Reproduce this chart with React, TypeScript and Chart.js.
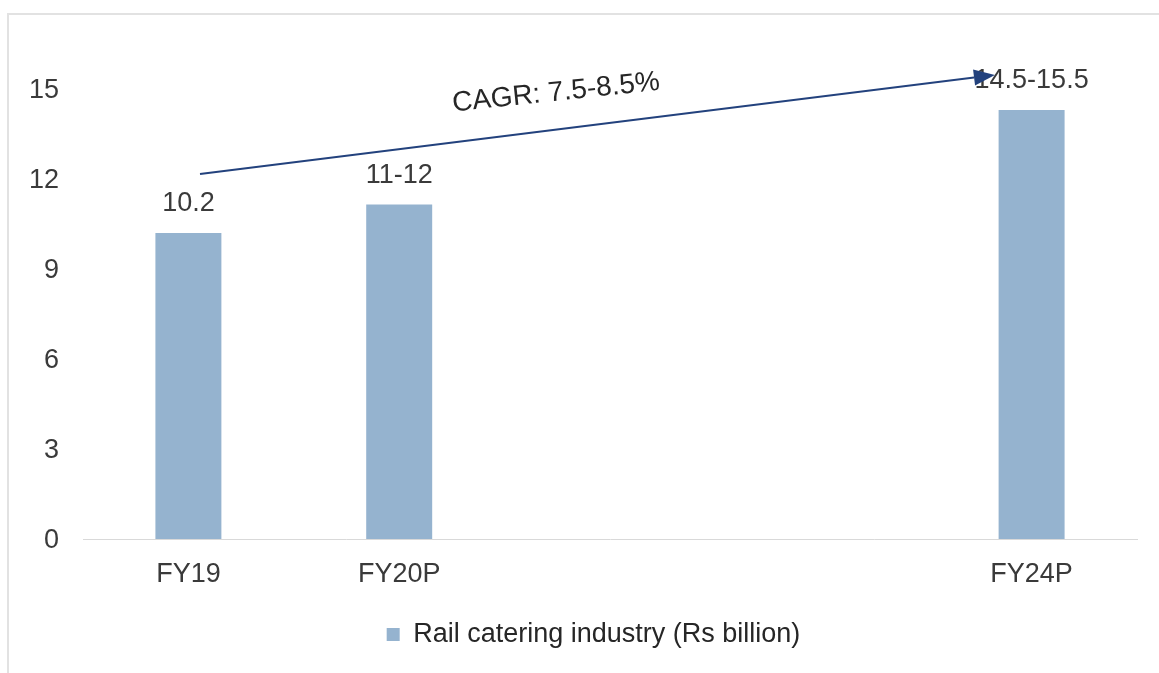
import React, { useEffect, useRef } from 'react';
import { Chart, registerables } from 'chart.js';

Chart.register(...registerables);

// ---- data ----
const categories = ['FY19', 'FY20P', '', '', 'FY24P'];
const marketSize = [10.2, 11.15, null, null, 14.3];
const valueLabels = ['10.2', '11-12', '', '', '14.5-15.5'];
const seriesName = 'Rail catering industry (Rs billion)';
const yTickValues = [0, 3, 6, 9, 12, 15];
const cagrText = 'CAGR: 7.5-8.5%';
// annotation anchors in data units: [category index, value]
const cagrFrom = [0.055, 12.17];
const cagrTo = [3.826, 15.47];
const cagrTextAt = [1.744, 14.87];

const FONT = '"Liberation Sans", Arial, sans-serif';
const FONT_SIZE = 27;
const BAR_COLOR = '#95b3cf';
const TEXT_COLOR = '#3a3a3a';
const ARROW_COLOR = '#23427d';
const LEGEND_SHIFT = 25;

const valueLabelPlugin = {
  id: 'valueLabels',
  afterDatasetsDraw(chart: any) {
    const ctx = chart.ctx;
    const meta = chart.getDatasetMeta(0);
    ctx.save();
    ctx.font = `${FONT_SIZE}px ${FONT}`;
    ctx.fillStyle = TEXT_COLOR;
    ctx.textAlign = 'center';
    ctx.textBaseline = 'middle';
    meta.data.forEach((bar: any, i: number) => {
      const txt = valueLabels[i];
      if (!txt || marketSize[i] == null) return;
      ctx.fillText(txt, bar.x, bar.y - 29);
    });
    ctx.restore();
  },
};

const legendShiftPlugin = {
  id: 'legendShift',
  afterLayout(chart: any) {
    const lg = chart.legend;
    if (lg) {
      lg.left += LEGEND_SHIFT;
      lg.right += LEGEND_SHIFT;
    }
  },
};

const cagrPlugin = {
  id: 'cagrArrow',
  afterDraw(chart: any) {
    const { ctx, scales } = chart;
    const xs = scales.x;
    const ys = scales.y;
    const x1 = xs.getPixelForValue(cagrFrom[0]);
    const y1 = ys.getPixelForValue(cagrFrom[1]);
    const x2 = xs.getPixelForValue(cagrTo[0]);
    const y2 = ys.getPixelForValue(cagrTo[1]);
    const ang = Math.atan2(y2 - y1, x2 - x1);
    const headLen = 21;
    const headHalf = 8;
    const bx = x2 - headLen * Math.cos(ang);
    const by = y2 - headLen * Math.sin(ang);
    ctx.save();
    ctx.strokeStyle = ARROW_COLOR;
    ctx.fillStyle = ARROW_COLOR;
    ctx.lineWidth = 2;
    ctx.beginPath();
    ctx.moveTo(x1, y1);
    ctx.lineTo(bx, by);
    ctx.stroke();
    ctx.beginPath();
    ctx.moveTo(x2, y2);
    ctx.lineTo(bx + headHalf * Math.sin(ang), by - headHalf * Math.cos(ang));
    ctx.lineTo(bx - headHalf * Math.sin(ang), by + headHalf * Math.cos(ang));
    ctx.closePath();
    ctx.fill();

    const tx = xs.getPixelForValue(cagrTextAt[0]);
    const ty = ys.getPixelForValue(cagrTextAt[1]);
    ctx.translate(tx, ty);
    ctx.rotate((-6 * Math.PI) / 180);
    ctx.font = `${FONT_SIZE + 1}px ${FONT}`;
    ctx.fillStyle = '#262626';
    ctx.textAlign = 'center';
    ctx.textBaseline = 'middle';
    ctx.fillText(cagrText, 0, 0);
    ctx.restore();
  },
};

export default function App() {
  const canvasRef = useRef<HTMLCanvasElement | null>(null);

  useEffect(() => {
    if (!canvasRef.current) return;
    const chart = new Chart(canvasRef.current, {
      type: 'bar',
      data: {
        labels: categories,
        datasets: [
          {
            label: seriesName,
            data: marketSize as any,
            backgroundColor: BAR_COLOR,
            borderWidth: 0,
            categoryPercentage: 1,
            barPercentage: 0.313,
          },
        ],
      },
      options: {
        animation: false,
        responsive: true,
        maintainAspectRatio: false,
        layout: { padding: { left: 0, right: 22, top: 89, bottom: 15 } },
        plugins: {
          tooltip: { enabled: false },
          legend: {
            display: true,
            position: 'bottom',
            labels: {
              boxWidth: 13,
              boxHeight: 13,
              padding: 32,
              color: '#262626',
              font: { family: FONT, size: FONT_SIZE },
            },
          },
        },
        scales: {
          x: {
            grid: { display: false, drawTicks: false },
            border: { display: true, color: '#d9d9d9', width: 1 },
            ticks: {
              color: TEXT_COLOR,
              padding: 19,
              font: { family: FONT, size: FONT_SIZE },
              maxRotation: 0,
              autoSkip: false,
            },
            afterFit(scale: any) {
              scale.height = 50;
            },
          },
          y: {
            min: 0,
            max: 15,
            grid: { display: false, drawTicks: false },
            border: { display: false },
            ticks: {
              color: TEXT_COLOR,
              padding: 24,
              stepSize: 3,
              labelOffset: 2,
              font: { family: FONT, size: FONT_SIZE },
            },
            afterBuildTicks(scale: any) {
              scale.ticks = yTickValues.map((v) => ({ value: v }));
            },
            afterFit(scale: any) {
              scale.width = 83;
            },
          },
        },
      },
      plugins: [valueLabelPlugin, cagrPlugin, legendShiftPlugin],
    });
    return () => chart.destroy();
  }, []);

  return (
    <>
      <div
        style={{
          position: 'fixed',
          left: 7,
          top: 13,
          right: 0,
          bottom: 0,
          borderLeft: '2px solid #e2e2e2',
          borderTop: '2px solid #e2e2e2',
          background: '#ffffff',
        }}
      />
      <div style={{ position: 'fixed', left: 0, top: 0, width: 1159, height: 673 }}>
        <canvas ref={canvasRef} />
      </div>
    </>
  );
}
